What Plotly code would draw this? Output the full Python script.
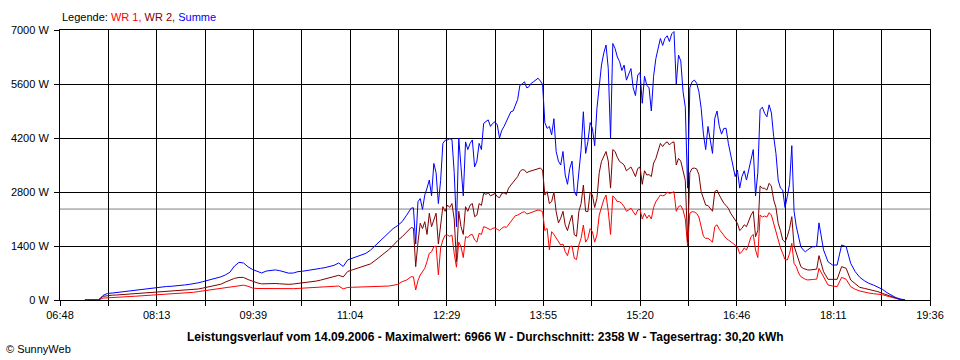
import plotly.graph_objects as go

# ---------------- data ----------------
# Sample times: (first, last, step in minutes); denser where the signal is noisy.
TIME_SEGMENTS = [("07:10", "11:58", 4), ("12:00", "17:58", 2), ("18:02", "19:14", 4)]

WR1_W = [
    # 07:10 - 11:58 (4 min)
    0, 0, 0, 0, 50, 60, 70, 75, 80, 85,
    90, 97, 105, 112, 117, 122, 127, 133, 142, 150,
    162, 172, 180, 190, 200, 218, 235, 250, 265, 282,
    300, 322, 345, 365, 385, 385, 355, 310, 298, 295,
    294, 294, 294, 290, 290, 292, 294, 300, 305, 310,
    315, 322, 328, 335, 342, 350, 362, 290, 325, 330,
    332, 335, 338, 340, 345, 350, 355, 362, 380, 405,
    475, 518, 605,
    # 12:00 - 17:58 (2 min)
    600, 260, 500, 648, 720, 821, 1000, 1210, 1250, 1383,
    1400, 650, 1350, 1556, 1680, 1685, 1650, 1685, 1200, 850,
    1500, 1383, 1100, 1642, 1620, 1685, 1700, 1556, 1500, 1728,
    1700, 1901, 1880, 1858, 1820, 1858, 1870, 1832, 1800, 1858,
    1900, 1880, 1950, 2031, 2100, 2187, 2200, 2247, 2270, 2290,
    2230, 2247, 2270, 2290, 2300, 2333, 2320, 2290, 1800, 1858,
    1300, 1771, 1700, 1599, 1500, 1426, 1450, 1253, 1150, 1383,
    1400, 1080, 1050, 1426, 1600, 1944, 1500, 1599, 1850, 1771,
    1500, 1685, 2200, 2420, 2600, 2722, 2300, 1700, 2700, 2636,
    2550, 2549, 2500, 2420, 2300, 2333, 2380, 2290, 2200, 2333,
    2350, 2100, 2250, 2117, 2200, 2100, 2400, 2549, 2650, 2722,
    2700, 2722, 2800, 2765, 2780, 2809, 2300, 2420, 2450, 2333,
    2100, 1400, 2250, 2290, 2280, 2247, 2150, 1858, 1650, 1599,
    1600, 1556, 1500, 1901, 1950, 1830, 1750, 1685, 1600, 1556,
    1500, 1469, 1420, 1383, 1200, 1253, 1350, 1296, 1450, 1642,
    1700, 1296, 1100, 2204, 2150, 2178, 2150, 2264, 2200, 1988,
    1800, 1556, 1350, 1210, 1050, 1037, 1200, 1469, 950, 864,
    700, 605, 560, 536, 520, 518, 530, 536, 540, 820,
    # 18:02 - 19:14 (4 min)
    605, 389, 363, 346, 588, 536, 346, 277, 233, 199,
    181, 164, 156, 138, 104, 69, 35, 10, 0,
]

WR2_W = [
    # 07:10 - 11:58 (4 min)
    0, 0, 0, 0, 95, 115, 125, 130, 138, 145,
    152, 160, 167, 173, 180, 187, 195, 202, 212, 220,
    230, 238, 245, 252, 260, 285, 308, 330, 355, 385,
    410, 465, 515, 560, 585, 585, 530, 480, 445, 418,
    425, 430, 428, 420, 410, 406, 415, 428, 435, 450,
    470, 490, 515, 550, 580, 610, 640, 600, 740, 780,
    820, 855, 895, 935, 1020, 1110, 1210, 1300, 1410, 1540,
    1640, 1770, 1880,
    # 12:00 - 17:58 (2 min)
    1860, 864, 1500, 1990, 1850, 2030, 1700, 2250, 1900, 2070,
    2250, 1450, 2000, 2420, 2300, 2460, 2400, 2500, 2100, 1000,
    2300, 1900, 1700, 2420, 2300, 2460, 2500, 2160, 2200, 2500,
    2450, 2765, 2740, 2780, 2700, 2720, 2760, 2680, 2650, 2765,
    2780, 2740, 2900, 2980, 3050, 3110, 3200, 3330, 3380, 3370,
    3300, 3330, 3350, 3370, 3400, 3410, 3420, 3370, 2720, 2810,
    2500, 2550, 2800, 2290, 2000, 2120, 2300, 1940, 1800, 2030,
    2200, 1690, 1650, 2290, 2500, 2980, 2300, 2290, 2800, 2720,
    2400, 2640, 3300, 3590, 3700, 3850, 3600, 2900, 3900, 3850,
    3700, 3590, 3550, 3500, 3350, 3410, 3450, 3330, 3200, 3410,
    3450, 3000, 3350, 3240, 3250, 3200, 3550, 3670, 3900, 4060,
    3980, 4060, 4100, 4020, 4080, 4100, 3500, 3670, 3600, 3330,
    3100, 1500, 3300, 3410, 3420, 3400, 3250, 2810, 2600, 2460,
    2450, 2380, 2300, 2810, 2850, 2720, 2600, 2506, 2450, 2376,
    2250, 2160, 2050, 1988, 1800, 1858, 1950, 1901, 2050, 2204,
    2300, 1642, 1800, 2956, 2900, 2895, 2850, 3025, 2950, 2593,
    2400, 1988, 1800, 1556, 1500, 1642, 1850, 2160, 1400, 1210,
    1000, 864, 820, 795, 780, 778, 790, 795, 800, 1150,
    # 18:02 - 19:14 (4 min)
    735, 536, 536, 536, 864, 821, 518, 415, 328, 302,
    277, 259, 216, 173, 130, 86, 35, 10, 0,
]

SUMME_W = [
    # 07:10 - 11:58 (4 min)
    0, 0, 0, 0, 120, 170, 180, 195, 210, 225,
    240, 255, 265, 275, 295, 310, 325, 340, 350, 355,
    362, 375, 390, 405, 418, 445, 475, 505, 530, 560,
    600, 650, 720, 880, 975, 960, 860, 790, 735, 700,
    750, 765, 780, 760, 730, 695, 700, 735, 745, 760,
    780, 805, 820, 840, 862, 900, 960, 870, 1040, 1080,
    1120, 1150, 1210, 1290, 1400, 1520, 1620, 1720, 1850, 1930,
    2030, 2200, 2380,
    # 12:00 - 17:58 (2 min)
    2390, 1450, 2550, 2630, 2350, 2720, 2900, 3110, 2700, 3540,
    3300, 2500, 3100, 4060, 4140, 4150, 4180, 4160, 3300, 1900,
    4200, 3500, 2700, 4100, 3900, 4060, 4150, 3450, 3600, 4060,
    3900, 4580, 4620, 4670, 4500, 4580, 4620, 4540, 4200, 4400,
    4500, 4620, 4750, 4880, 4900, 5055, 5200, 5570, 5600, 5660,
    5500, 5530, 5620, 5660, 5700, 5750, 5680, 5590, 4600, 4450,
    4500, 4280, 4700, 3850, 3600, 3500, 3850, 3240, 3000, 3410,
    3600, 2810, 2700, 3410, 3900, 4880, 3800, 4100, 4600, 4450,
    4000, 4970, 5600, 6090, 6400, 6610, 6000, 4200, 6650, 6520,
    6300, 6180, 5950, 6090, 5700, 5830, 6000, 5500, 5300, 5830,
    5900, 5100, 5800, 5570, 5500, 4900, 5800, 6260, 6500, 6780,
    6600, 6780, 6850, 6700, 6900, 6960, 5600, 6350, 6200, 5400,
    5000, 2900, 5500, 5660, 5700, 5620, 5400, 4970, 4300, 3900,
    4500, 4100, 3800, 4710, 4900, 4500, 4300, 4450, 4450, 4060,
    3800, 3540, 3200, 3370, 2900, 3200, 3350, 3110, 3400, 3630,
    3900, 2700, 3300, 4930, 5000, 4840, 4750, 5060, 4850, 4240,
    3800, 3110, 2900, 2850, 2400, 2680, 3000, 4000, 2300, 1900,
    1600, 1380, 1300, 1250, 1300, 1340, 1380, 1380, 1400, 2000,
    # 18:02 - 19:14 (4 min)
    1300, 990, 907, 907, 1426, 1383, 951, 735, 588, 501,
    432, 389, 328, 277, 190, 130, 60, 26, 0,
]

AVERAGE_W = 2358

X_TICK_LABELS = ["06:48", "08:13", "09:39", "11:04", "12:29",
                 "13:55", "15:20", "16:46", "18:11", "19:36"]
Y_TICK_VALUES = [0, 1400, 2800, 4200, 5600, 7000]
SERIES_NAMES = ["WR 1", "WR 2", "Summe"]
TITLE_TEXT = ("Leistungsverlauf vom 14.09.2006 - Maximalwert: 6966 W - "
              "Durchschnitt: 2358 W - Tagesertrag: 30,20 kWh")
CREDIT_TEXT = "© SunnyWeb"

# ---------------- styling ----------------
COLORS = ["#FF0000", "#800000", "#0000FF"]
FONT = "Liberation Sans, Arial, Helvetica, sans-serif"


def to_min(hhmm):
    h, m = hhmm.split(":")
    return int(h) * 60 + int(m)


times = []
for first, last, step in TIME_SEGMENTS:
    times.extend(range(to_min(first), to_min(last) + 1, step))
assert len(times) == len(WR1_W) == len(WR2_W) == len(SUMME_W)

x_lo = to_min(X_TICK_LABELS[0])
x_hi = to_min(X_TICK_LABELS[-1])
n_div = 2 * (len(X_TICK_LABELS) - 1)
x_tickvals = [x_lo + i * (x_hi - x_lo) / n_div for i in range(n_div + 1)]
x_ticktext = [X_TICK_LABELS[i // 2] if i % 2 == 0 else "" for i in range(n_div + 1)]

fig = go.Figure()
for name, vals, col in zip(SERIES_NAMES, [WR1_W, WR2_W, SUMME_W], COLORS):
    fig.add_trace(go.Scatter(x=times, y=vals, name=name, mode="lines",
                             line=dict(color=col, width=1), showlegend=False,
                             hoverinfo="skip"))

# average line
fig.add_shape(type="line", xref="x", yref="y", x0=x_lo, x1=x_hi,
              y0=AVERAGE_W, y1=AVERAGE_W, layer="below",
              line=dict(color="#808080", width=1))

W, H = 960, 360
L, R, T, B = 60, 30, 30, 60
pw, ph = W - L - R, H - T - B


def px_x(px):
    return (px - L) / pw


def px_y(py):
    return (H - B - py) / ph


legend_html = "Legende: " + "".join(
    f"<span style='color:{c}'>{n}{', ' if i < len(SERIES_NAMES) - 1 else ''}</span>"
    for i, (n, c) in enumerate(zip(SERIES_NAMES, COLORS)))

fig.add_annotation(text=legend_html, xref="paper", yref="paper",
                   x=0, y=px_y(17), xanchor="left", yanchor="middle",
                   showarrow=False, font=dict(family=FONT, size=11, color="black"))
fig.add_annotation(text=f"<b>{TITLE_TEXT}</b>", xref="paper", yref="paper",
                   x=px_x(485), y=px_y(337), xanchor="center", yanchor="middle",
                   showarrow=False, font=dict(family=FONT, size=12, color="black"))
fig.add_annotation(text=CREDIT_TEXT, xref="paper", yref="paper",
                   x=px_x(4), y=px_y(349), xanchor="left", yanchor="middle",
                   showarrow=False, font=dict(family=FONT, size=11, color="black"))

axis_common = dict(showgrid=True, gridcolor="black", gridwidth=1,
                   showline=True, linecolor="black", linewidth=1, mirror=True,
                   ticks="outside", ticklen=5, tickcolor="black", tickwidth=1,
                   zeroline=False, tickfont=dict(family=FONT, size=11, color="black"))

fig.update_xaxes(range=[x_lo, x_hi], tickmode="array", tickvals=x_tickvals,
                 ticktext=x_ticktext, **axis_common)
fig.update_yaxes(range=[Y_TICK_VALUES[0], Y_TICK_VALUES[-1]], tickmode="array",
                 tickvals=Y_TICK_VALUES, ticktext=[f"{v} W" for v in Y_TICK_VALUES],
                 ticklabelstandoff=3, **axis_common)

fig.update_layout(width=W, height=H, margin=dict(l=L, r=R, t=T, b=B),
                  plot_bgcolor="white", paper_bgcolor="white",
                  font=dict(family=FONT, size=11, color="black"),
                  hovermode=False)

fig.write_html("out.html", config={"displayModeBar": False},
               post_script="document.body.style.margin='0';")
